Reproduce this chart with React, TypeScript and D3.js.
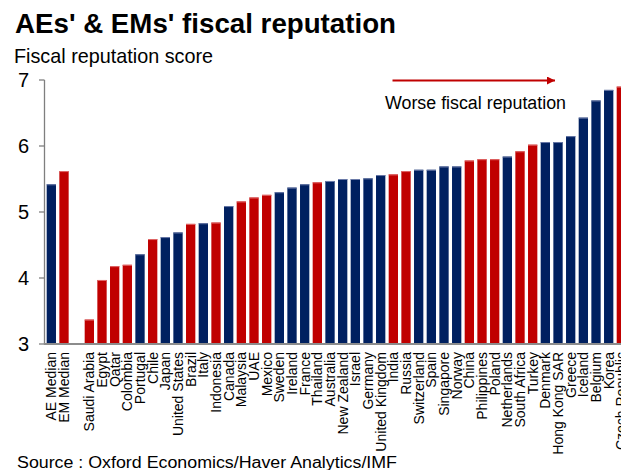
import React from "react";
import * as d3 from "d3";

const categories: string[] = [
  "AE Median", "EM Median", "",
  "Saudi Arabia", "Egypt", "Qatar", "Colombia", "Portugal", "Chile", "Japan",
  "United States", "Brazil", "Italy", "Indonesia", "Canada", "Malaysia", "UAE",
  "Mexico", "Sweden", "Ireland", "France", "Thailand", "Australia", "New Zealand",
  "Israel", "Germany", "United Kingdom", "India", "Russia", "Switzerland", "Spain",
  "Singapore", "Norway", "China", "Philippines", "Poland", "Netherlands",
  "South Africa", "Turkey", "Denmark", "Hong Kong SAR", "Greece", "Iceland",
  "Belgium", "Korea", "Czech Republic",
];

const scores: (number | null)[] = [
  5.42, 5.62, null,
  3.37, 3.97, 4.18, 4.2, 4.36, 4.59, 4.62,
  4.69, 4.82, 4.83, 4.84, 5.09, 5.16, 5.22,
  5.26, 5.3, 5.37, 5.42, 5.45, 5.47, 5.5,
  5.5, 5.51, 5.56, 5.57, 5.62, 5.64, 5.64,
  5.69, 5.69, 5.78, 5.8, 5.8, 5.84,
  5.92, 6.02, 6.06, 6.06, 6.15, 6.43,
  6.69, 6.85, 6.9,
];

// "AE" = advanced economy, "EM" = emerging market
const groups: string[] = [
  "AE", "EM", "",
  "EM", "EM", "EM", "EM", "AE", "EM", "AE",
  "AE", "EM", "AE", "EM", "AE", "EM", "EM",
  "EM", "AE", "AE", "AE", "EM", "AE", "AE",
  "AE", "AE", "AE", "EM", "EM", "AE", "AE",
  "AE", "AE", "EM", "EM", "EM", "AE",
  "EM", "EM", "AE", "AE", "AE", "AE",
  "AE", "AE", "EM",
];

const yTicks: number[] = [3, 4, 5, 6, 7];

const W = 621;
const H = 470;
const FONT = "'Liberation Sans', Arial, Helvetica, sans-serif";
const NAVY = "#002060";
const RED = "#C00000";

export default function App() {
  const keys = categories.map((_, i) => String(i));
  const step = 12.667;
  const x = d3
    .scaleBand<string>()
    .domain(keys)
    .range([45, 45 + step * keys.length])
    .paddingInner(0.265)
    .paddingOuter(0.1325);
  const y = d3.scaleLinear().domain([3, 7]).range([344, 80]);
  const axisX = 44.5;

  return (
    <svg
      width={W}
      height={H}
      style={{ position: "absolute", left: 0, top: 0, overflow: "hidden", background: "#fff" }}
      fontFamily={FONT}
    >
      <rect x={0} y={0} width={W} height={H} fill="#fff" />
      <text x={15} y={33} fontSize={27} fontWeight="bold" fill="#000" textLength={381} lengthAdjust="spacingAndGlyphs">
        AEs' &amp; EMs' fiscal reputation
      </text>
      <text x={14} y={62.5} fontSize={21} fill="#000" textLength={199} lengthAdjust="spacingAndGlyphs">
        Fiscal reputation score
      </text>

      {/* bars */}
      {scores.map((v, i) =>
        v == null ? null : (
          <g key={i}>
            <rect
              x={x(keys[i])!}
              y={y(v)}
              width={x.bandwidth()}
              height={y(3) - y(v)}
              fill={groups[i] === "EM" ? RED : NAVY}
            />
            <rect
              x={x(keys[i])!}
              y={y(v)}
              width={x.bandwidth()}
              height={1}
              fill={groups[i] === "EM" ? "#e06a6a" : "#6a7aa8"}
            />
          </g>
        )
      )}

      {/* y axis */}
      <line x1={axisX} x2={axisX} y1={y(7)} y2={y(3)} stroke="#7f7f7f" strokeWidth={1.3} />
      {yTicks.map((t) => (
        <g key={t}>
          <line x1={39} x2={axisX} y1={y(t)} y2={y(t)} stroke="#7f7f7f" strokeWidth={1.3} />
          <text x={29} y={y(t)} dy="0.36em" fontSize={20} textAnchor="end" fill="#000">
            {t}
          </text>
        </g>
      ))}
      {/* x axis baseline */}
      <line x1={axisX - 0.6} x2={W} y1={y(3)} y2={y(3)} stroke="#8c8c8c" strokeWidth={2} />

      {/* category labels */}
      {categories.map((c, i) =>
        c === "" ? null : (
          <text
            key={i}
            transform={`translate(${x(keys[i])! + x.bandwidth() / 2},352) rotate(-90)`}
            dy="0.35em"
            textAnchor="end"
            fontSize={14}
            fill="#000"
          >
            {c}
          </text>
        )
      )}

      {/* annotation arrow */}
      <defs>
        <marker id="arrowHead" viewBox="0 0 10 10" refX={10} refY={5} markerWidth={4} markerHeight={4} orient="auto" markerUnits="strokeWidth">
          <path d="M0,0 L10,5 L0,10 Z" fill={RED} />
        </marker>
      </defs>
      <line x1={392.5} x2={555} y1={80.5} y2={80.5} stroke={RED} strokeWidth={2} markerEnd="url(#arrowHead)" />
      <text x={385} y={109} fontSize={18} fill="#000" textLength={181} lengthAdjust="spacingAndGlyphs">
        Worse fiscal reputation
      </text>

      <text x={17} y={467.5} fontSize={16} fill="#000" textLength={380} lengthAdjust="spacingAndGlyphs">
        Source : Oxford Economics/Haver Analytics/IMF
      </text>
    </svg>
  );
}
